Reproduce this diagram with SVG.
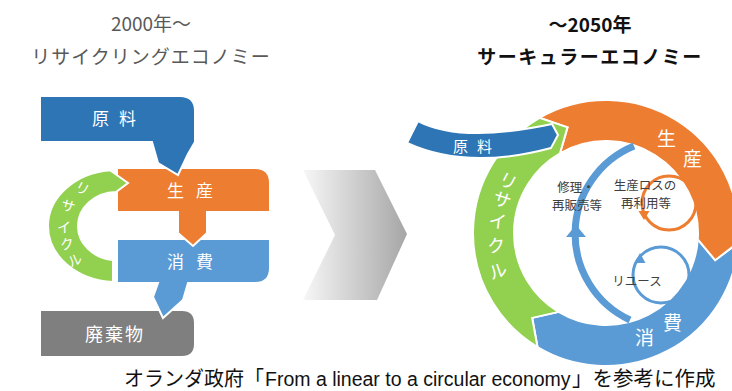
<svg xmlns="http://www.w3.org/2000/svg" width="732" height="391" viewBox="0 0 732 391">
<defs>
<linearGradient id="chev" x1="303" y1="0" x2="407" y2="0" gradientUnits="userSpaceOnUse">
<stop offset="0" stop-color="#f7f7f7"/>
<stop offset="1" stop-color="#a6a6a6"/>
</linearGradient>
<style>
text{font-family:"Noto Sans CJK JP","Noto Sans",sans-serif;}
.shape{stroke:#ffffff;stroke-width:2;stroke-linejoin:miter;}
.dblue{fill:#2e75b6;}
.orange{fill:#ed7d31;}
.lblue{fill:#5b9bd5;}
.green{fill:#92d050;}
.gray{fill:#7f7f7f;}
.wt{fill:#ffffff;}
.title{fill:#595959;font-size:19px;}
.btitle{fill:#111111;font-size:19px;font-weight:bold;}
.inner{fill:#404040;font-size:12.5px;text-anchor:middle;}
</style>
</defs>
<rect width="732" height="391" fill="#ffffff"/>

<!-- titles -->
<g id="titles">
<text class="title" x="151" y="31" text-anchor="middle">2000年～</text>
<text class="title" x="151" y="64" text-anchor="middle" letter-spacing="1">リサイクリングエコノミー</text>
<text class="btitle" x="590" y="32" text-anchor="middle">～2050年</text>
<text class="btitle" x="590" y="64" text-anchor="middle" letter-spacing="1.5">サーキュラーエコノミー</text>
</g>

<!-- left: linear/recycling economy -->
<g id="left-haikibutsu">
<path class="shape gray" d="M40,310 H182 Q195,310 195,323 V344 Q195,357 182,357 H40 Z"/>
<text class="wt" x="85" y="341" font-size="18" letter-spacing="2">廃棄物</text>
</g>
<g id="left-shohi">
<path class="shape lblue" d="M117,239 H270 V268 Q270,283 255,283 H188 L183,300 L163,318 L153,297 L158,283 H117 Z"/>
<text class="wt" x="167" y="268" font-size="17">消<tspan dx="12">費</tspan></text>
</g>
<g id="left-seisan">
<path class="shape orange" d="M117,168 H255 Q270,168 270,183 V212 H207 V233 L193,246 L178,233 V212 H117 Z"/>
<text class="wt" x="167" y="197" font-size="17">生<tspan dx="12">産</tspan></text>
</g>
<g id="left-recycle">
<path class="shape green" d="M113,282 A69,56 0 0 1 48,226 A69,56 0 0 1 110,170.3 L128,183 L116,192 A39,34 0 0 0 78,226 A39,34 0 0 0 113,260 Z"/>
<g class="wt" font-size="14" text-anchor="middle">
<text transform="translate(80,193) rotate(28)">リ</text>
<text transform="translate(67,211) rotate(14)">サ</text>
<text transform="translate(64,232) rotate(0)">イ</text>
<text transform="translate(68,249) rotate(-12)">ク</text>
<text transform="translate(77,265) rotate(-24)">ル</text>
</g>
</g>
<g id="left-genryo">
<path class="shape dblue" d="M40,96 H180 Q195,96 195,111 V142 L188,154 L178,175 L158,163 L152,142 H40 Z"/>
<text class="wt" x="92" y="125" font-size="17">原<tspan dx="10">料</tspan></text>
</g>

<!-- transition chevron -->
<g id="chevron">
<polygon points="303,170 375,170 407,234 377,300 303,300 335,235" fill="url(#chev)"/>
</g>

<!-- right: circular economy -->
<g id="ring-shohi">
<path class="shape lblue" d="M738.68,242.28 A133,133 0 0 1 537.5,347.01 L532.19,317.9 L558.62,311.86 A92,92 0 0 0 697.78,239.42 L715.16,260.21 Z"/>
<text class="wt" x="635" y="345" font-size="19">消</text>
<text class="wt" x="663" y="330" font-size="19">費</text>
</g>
<g id="ring-seisan">
<path class="shape orange" d="M539.5,117.82 A133,133 0 0 1 738.68,242.28 L715.16,260.21 L697.78,239.42 A92,92 0 0 0 560,153.33 L567.52,127.28 Z"/>
<text class="wt" x="657" y="146" font-size="19">生</text>
<text class="wt" x="683" y="166" font-size="19">産</text>
</g>
<g id="ring-recycle">
<path class="shape green" d="M537.5,347.01 A133,133 0 0 1 539.5,117.82 L567.52,127.28 L560,153.33 A92,92 0 0 0 558.62,311.86 L532.19,317.9 Z"/>
<g class="wt" font-size="18" text-anchor="middle">
<text transform="translate(505,187) rotate(28)">リ</text>
<text transform="translate(500,206) rotate(18)">サ</text>
<text transform="translate(497,228) rotate(6)">イ</text>
<text transform="translate(497,252) rotate(-6)">ク</text>
<text transform="translate(500,277) rotate(-19)">ル</text>
</g>
</g>

<g id="loop-repair">
<path d="M634,146 A95,95 0 0 0 630,320" fill="none" stroke="#5b9bd5" stroke-width="7"/>
<polygon points="576,225 566,237 586,237" fill="#5b9bd5"/>
<text class="inner" x="576" y="192">修理・</text>
<text class="inner" x="577" y="210">再販売等</text>
</g>
<g id="loop-loss">
<circle cx="669" cy="203" r="27" fill="none" stroke="#ed7d31" stroke-width="3"/>
<polygon points="644,220 638.5,211 649.5,211" fill="#ed7d31"/>
<text class="inner" x="645" y="190">生産ロスの</text>
<text class="inner" x="646" y="208">再利用等</text>
</g>
<g id="loop-reuse">
<circle cx="661" cy="275" r="28" fill="none" stroke="#5b9bd5" stroke-width="3"/>
<polygon points="640,253 634.5,263 645.5,263" fill="#5b9bd5"/>
<text class="inner" x="637" y="286">リユース</text>
</g>

<g id="ring-genryo">
<path class="shape dblue" d="M418,121 Q461,143.5 552,124 L558,135 L551,148 Q467,170.5 407,143 Z"/>
<text class="wt" x="453" y="152" font-size="15">原<tspan dx="9">料</tspan></text>
</g>

<!-- source note -->
<g id="footer" fill="#111111">
<text x="124" y="386" font-size="20">オランダ政府「</text>
<text x="265" y="386" font-size="19.5" style="font-family:'Liberation Sans',Arial,sans-serif">From a linear to a circular economy</text>
<text x="572" y="386" font-size="20.5">」を参考に作成</text>
</g>
</svg>
